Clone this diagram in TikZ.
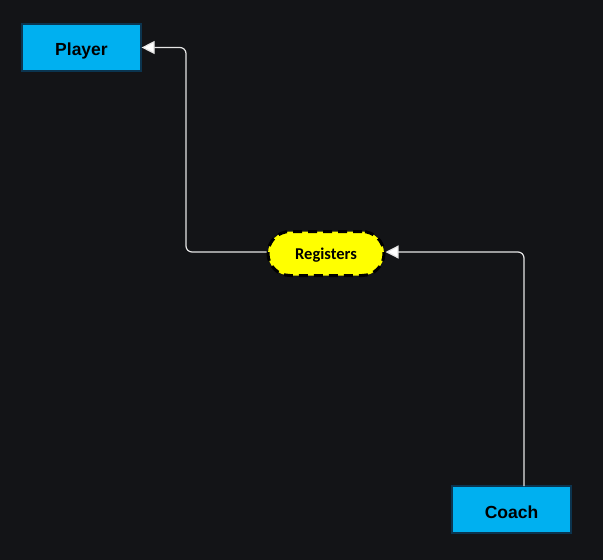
\documentclass[tikz,border=0pt]{standalone}
\usepackage{fontspec}
\setmainfont{Liberation Sans}
\newfontfamily\carl{Carlito}
\usetikzlibrary{arrows.meta}
\definecolor{bg}{HTML}{131417}
\definecolor{boxblue}{HTML}{00B0F0}
\definecolor{boxedge}{HTML}{0B3550}
\definecolor{regyellow}{HTML}{FFFF00}
\newcommand{\lowtxt}[2]{\raisebox{-#1}[\height][\depth]{#2}}
\tikzset{
  actor/.style={draw=boxedge, line width=1.2pt, fill=boxblue, minimum width=119pt, minimum height=47pt, inner sep=0pt, font=\fontsize{17.5}{19}\selectfont\bfseries, text=black},
  relation/.style={draw=black, line width=3pt, dash pattern=on 9pt off 6pt, fill=regyellow, rounded corners=22pt, minimum width=116pt, minimum height=44pt, inner sep=0pt, font=\carl\fontsize{16.5}{18}\selectfont\bfseries, text=black},
  conn/.style={draw=white!90!black, line width=1.2pt, rounded corners=6pt, -{Triangle[width=13pt,length=13pt,fill=white]}}
}
\begin{document}
\begin{tikzpicture}[x=1pt,y=-1pt]
\fill[bg] (0,0) rectangle (603,560);
\useasboundingbox (0,0) rectangle (603,560);
\node[actor] (player) at (81.5,47.5) {\lowtxt{3pt}{Player}};
\node[actor] (coach) at (511.5,509.5) {\lowtxt{3pt}{Coach}};
\node[relation] (reg) at (326,253.5) {\lowtxt{2pt}{Registers}};
\coordinate (p1) at (186,252);
\coordinate (p2) at (186,47.5);
\coordinate (c1) at (524,486);
\coordinate (c2) at (524,252);
\draw[conn] (reg.west |- p1) -- (p1) -- (p2) -- (player.east);
\draw[conn] (c1) -- (c2) -- (reg.east |- c2);
\end{tikzpicture}
\end{document}
